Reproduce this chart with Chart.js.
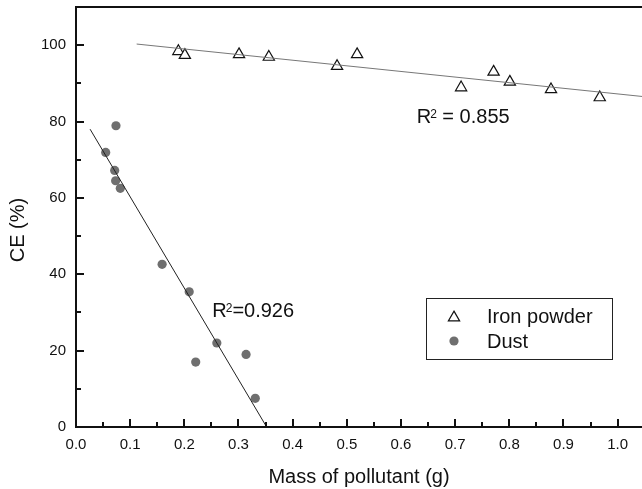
<!DOCTYPE html>
<html>
<head>
<meta charset="utf-8">
<script src="https://cdn.jsdelivr.net/npm/chart.js@4.4.1/dist/chart.umd.min.js"></script>
<style>
  html, body { margin: 0; padding: 0; background: #fff; }
  #wrap { width: 642px; height: 489px; position: relative; }
</style>
</head>
<body>
<div id="wrap"><canvas id="c"></canvas></div>
<script>
// ---- Data ----
const ironMass = [0.189, 0.201, 0.301, 0.356, 0.482, 0.519, 0.711, 0.771, 0.801, 0.877, 0.967];
const ironCE   = [98.4, 97.4, 97.6, 96.9, 94.5, 97.6, 88.9, 93.0, 90.4, 88.4, 86.3];
const dustMass = [0.0738, 0.0548, 0.0714, 0.0732, 0.0818, 0.159, 0.209, 0.221, 0.260, 0.314, 0.331];
const dustCE   = [78.9, 71.9, 67.2, 64.5, 62.5, 42.6, 35.4, 17.0, 22.0, 19.0, 7.5];
// fitted trend lines (end points as drawn)
const ironFitMass = [0.112, 1.05];
const ironFitCE   = [100.3, 86.5];
const dustFitMass = [0.026, 0.352];
const dustFitCE   = [78.0, 0.0];
// R² annotations (data coords of text start / baseline)
const r2Labels = [
  { pre: 'R', sup: '2', post: ' = 0.855', x: 0.629, y: 79.5 },
  { pre: 'R', sup: '2', post: '=0.926',   x: 0.2516, y: 28.7 }
];
const seriesNames = ['Iron powder', 'Dust'];
const xTitle = 'Mass of pollutant (g)';
const yTitle = 'CE (%)';

const FONT = "'Liberation Sans', Arial, sans-serif";
const toXY = (xs, ys) => xs.map((x, i) => ({ x: x, y: ys[i] }));

const decorPlugin = {
  id: 'decor',
  afterDraw(chart) {
    const ctx = chart.ctx;
    const xs = chart.scales.x, ys = chart.scales.y;
    const a = chart.chartArea;
    ctx.save();
    ctx.strokeStyle = '#111';
    ctx.lineWidth = 2;
    // top frame line
    ctx.beginPath();
    ctx.moveTo(a.left, a.top);
    ctx.lineTo(a.right, a.top);
    ctx.stroke();
    // inward ticks on x
    for (let i = 0; i <= 21; i++) {
      const px = Math.round(xs.getPixelForValue(i * 0.05));
      if (px > a.right) continue;
      const len = (i % 2 === 0) ? 8 : 5;
      ctx.beginPath();
      ctx.moveTo(px, a.bottom);
      ctx.lineTo(px, a.bottom - len);
      ctx.stroke();
    }
    // inward ticks on y
    for (let i = 0; i <= 10; i++) {
      const py = Math.round(ys.getPixelForValue(i * 10));
      const len = (i % 2 === 0) ? 8 : 5;
      ctx.beginPath();
      ctx.moveTo(a.left, py);
      ctx.lineTo(a.left + len, py);
      ctx.stroke();
    }
    // y title
    ctx.fillStyle = '#111';
    ctx.font = '20px ' + FONT;
    ctx.textAlign = 'center';
    ctx.textBaseline = 'middle';
    ctx.translate(18, (a.top + a.bottom) / 2 + 13);
    ctx.rotate(-Math.PI / 2);
    ctx.fillText(yTitle, 0, 0);
    ctx.restore();

    // R² annotations
    ctx.save();
    ctx.fillStyle = '#111';
    ctx.textBaseline = 'alphabetic';
    ctx.textAlign = 'left';
    r2Labels.forEach(l => {
      let px = xs.getPixelForValue(l.x);
      const py = ys.getPixelForValue(l.y);
      ctx.font = '20px ' + FONT;
      ctx.fillText(l.pre, px, py);
      px += ctx.measureText(l.pre).width - 1;
      ctx.font = '12px ' + FONT;
      ctx.fillText(l.sup, px, py - 5);
      px += ctx.measureText(l.sup).width;
      ctx.font = '20px ' + FONT;
      ctx.fillText(l.post, px, py);
    });
    ctx.restore();

    // legend box
    ctx.save();
    const lx = a.left + 350, ly = a.top + 291, lw = 186, lh = 61;
    ctx.strokeStyle = '#222';
    ctx.lineWidth = 1;
    ctx.fillStyle = '#fff';
    ctx.fillRect(lx, ly, lw, lh);
    ctx.strokeRect(lx + 0.5, ly + 0.5, lw, lh);
    const rows = [ly + 18, ly + 43];
    // triangle
    const d0 = chart.data.datasets[2];
    const cx = lx + 28;
    const r = d0.pointRadius;
    ctx.beginPath();
    ctx.moveTo(cx, rows[0] - r + 1.6);
    ctx.lineTo(cx + r * Math.sqrt(3) / 2, rows[0] + r / 2 + 1.6);
    ctx.lineTo(cx - r * Math.sqrt(3) / 2, rows[0] + r / 2 + 1.6);
    ctx.closePath();
    ctx.fillStyle = d0.backgroundColor;
    ctx.fill();
    ctx.strokeStyle = d0.borderColor;
    ctx.lineWidth = d0.borderWidth;
    ctx.stroke();
    // circle
    const d1 = chart.data.datasets[3];
    ctx.beginPath();
    ctx.arc(cx, rows[1], d1.pointRadius, 0, Math.PI * 2);
    ctx.fillStyle = d1.backgroundColor;
    ctx.fill();
    ctx.fillStyle = '#111';
    ctx.font = '20px ' + FONT;
    ctx.textAlign = 'left';
    ctx.textBaseline = 'middle';
    ctx.fillText(seriesNames[0], lx + 61, rows[0] + 1);
    ctx.fillText(seriesNames[1], lx + 61, rows[1] + 1);
    ctx.restore();
  }
};

new Chart(document.getElementById('c'), {
  type: 'scatter',
  data: {
    datasets: [
      {
        label: 'Iron fit', data: toXY(ironFitMass, ironFitCE), showLine: true,
        borderColor: '#777', borderWidth: 1, pointRadius: 0, fill: false
      },
      {
        label: 'Dust fit', data: toXY(dustFitMass, dustFitCE), showLine: true,
        borderColor: '#222', borderWidth: 1, pointRadius: 0, fill: false
      },
      {
        label: seriesNames[0], data: toXY(ironMass, ironCE),
        pointStyle: 'triangle', pointRadius: 6.5, borderWidth: 1.2,
        borderColor: '#111', backgroundColor: '#fff'
      },
      {
        label: seriesNames[1], data: toXY(dustMass, dustCE),
        pointStyle: 'circle', pointRadius: 4.6, borderWidth: 0,
        borderColor: '#6f6f6f', backgroundColor: '#6f6f6f'
      }
    ]
  },
  options: {
    responsive: true,
    maintainAspectRatio: false,
    animation: false,
    devicePixelRatio: 1,
    layout: { autoPadding: false, padding: { top: 7, right: 0, left: 0, bottom: 0 } },
    plugins: { legend: { display: false }, tooltip: { enabled: false } },
    scales: {
      x: {
        type: 'linear', min: 0, max: 1.045,
        afterFit(s) { s.height = 62; s.paddingLeft = 0; s.paddingRight = 0; },
        grid: { display: true, drawOnChartArea: false, drawTicks: false },
        border: { display: true, color: '#111', width: 2 },
        ticks: {
          stepSize: 0.1, includeBounds: false, padding: 9, color: '#111',
          font: { family: FONT, size: 15 },
          callback: v => Number(v).toFixed(1)
        },
        title: {
          display: true, text: xTitle, color: '#111',
          font: { family: FONT, size: 20 }, padding: { top: 0, bottom: 0 }
        }
      },
      y: {
        type: 'linear', min: 0, max: 110,
        afterFit(s) { s.width = 76; s.paddingTop = 0; s.paddingBottom = 0; },
        grid: { display: true, drawOnChartArea: false, drawTicks: false },
        border: { display: true, color: '#111', width: 2 },
        ticks: {
          stepSize: 20, includeBounds: false, padding: 10, color: '#111',
          font: { family: FONT, size: 15 }
        }
      }
    }
  },
  plugins: [decorPlugin]
});
</script>
</body>
</html>
